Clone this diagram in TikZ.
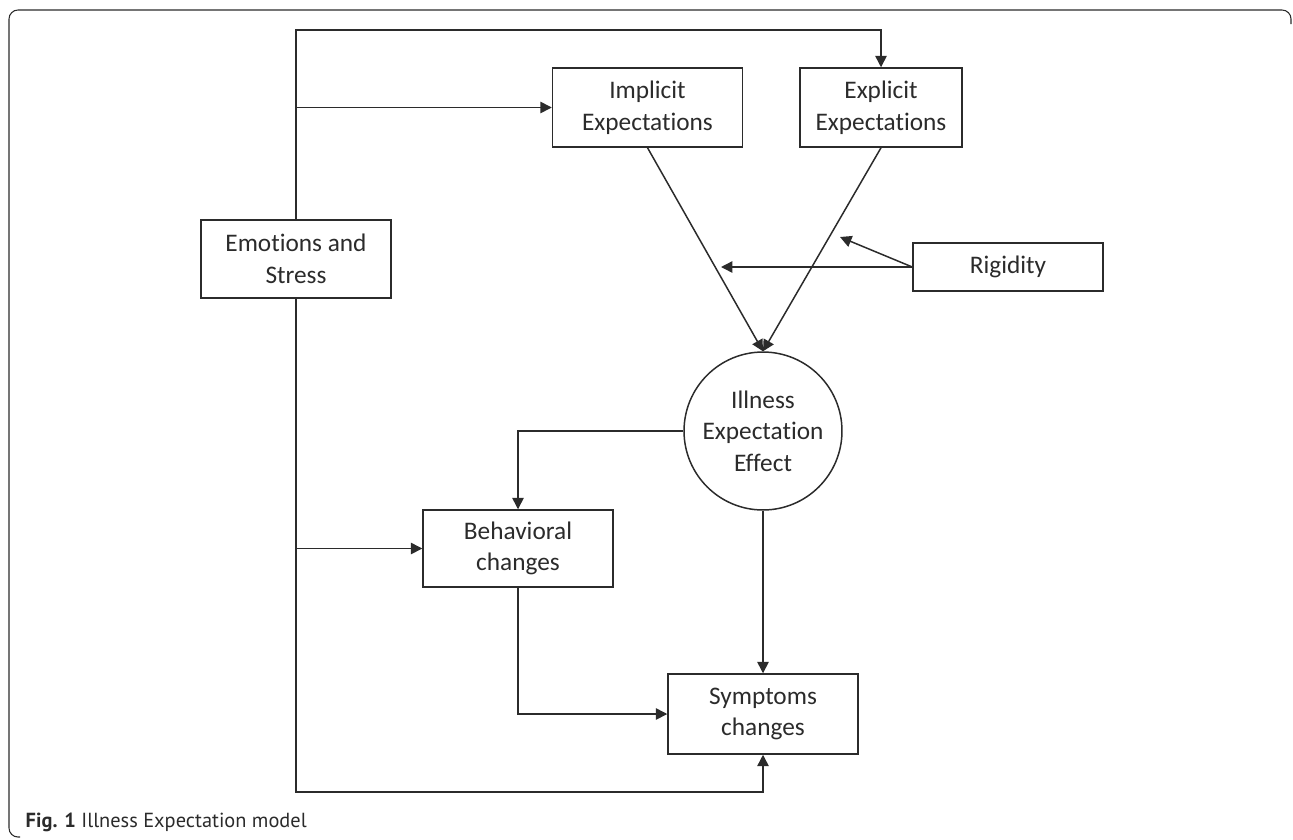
\documentclass[tikz,border=0pt]{standalone}
\usepackage{fontspec}
\setmainfont{Carlito}[Ligatures=NoCommon]
\newfontfamily\capfont{PT Sans}
\usetikzlibrary{arrows.meta}
\definecolor{ink}{HTML}{2B2B2B}
\begin{document}
\begin{tikzpicture}[x=0.02cm, y=-0.02cm, line width=0.85pt, draw=ink, text=ink,
	font=\fontsize{14.4}{18}\selectfont,
	box/.style = {draw, rectangle, align=center, minimum width=3.8cm, inner sep=0pt},
	circ/.style = {draw, circle, align=center, minimum size=3.16cm, inner sep=0pt},
	arr/.style = {-{Triangle[length=6.5pt, width=6.5pt]}}]
	\useasboundingbox (0,0) rectangle (1293,839);
	
	% frame and caption
	\draw[line width=0.6pt, rounded corners=0.18cm] (1291,24) |- (9,10) |- (20,837);
	\node[anchor=base west, inner sep=0pt, font=\capfont\fontsize{11.6}{14}\selectfont] (cap) at (25,827) {\textbf{Fig. 1} Illness Expectation model};
	
	\node[box, minimum height=1.56cm] (emo) at (296,259) {Emotions and\\Stress};
	\node[box, minimum height=1.58cm] (impl) at (647.5,107.5) {Implicit\\Expectations};
	\node[box, minimum height=1.58cm, minimum width=3.24cm] (expl) at (881,107.5) {Explicit\\Expectations};
	\node[box, minimum height=0.96cm] (rig) at (1008,267) {Rigidity};
	\node[circ] (ill) at (763,431) {Illness\\Expectation\\Effect};
	\node[box, minimum height=1.54cm] (beh) at (518,548.5) {Behavioral\\changes};
	\node[box, minimum height=1.6cm] (sym) at (763,714) {Symptoms\\changes};
	
	\coordinate (top) at (296,30);
	\coordinate (bot) at (296,792);
	\coordinate (r1) at (721,267);
	\coordinate (r2) at (840,237);
	
	\draw[arr] (emo.north) -- (top) -| (expl.north);
	\draw[arr] (emo.north |- impl.west) -- (impl.west);
	\draw[arr] (emo.south |- beh.west) -- (beh.west);
	\draw[arr] (emo.south) -- (bot) -| (sym.south);
	
	\draw[arr] (impl.south) -- (ill.north);
	\draw[arr] (expl.south) -- (ill.north);
	\draw[arr] (rig.west) -- (r1);
	\draw[arr] (rig.west) -- (r2);
	
	\draw[arr] (ill.west) -| (beh.north);
	\draw[arr] (ill.south) -- (sym.north);
	\draw[arr] (beh.south) |- (sym.west);
	
\end{tikzpicture}
\end{document}
